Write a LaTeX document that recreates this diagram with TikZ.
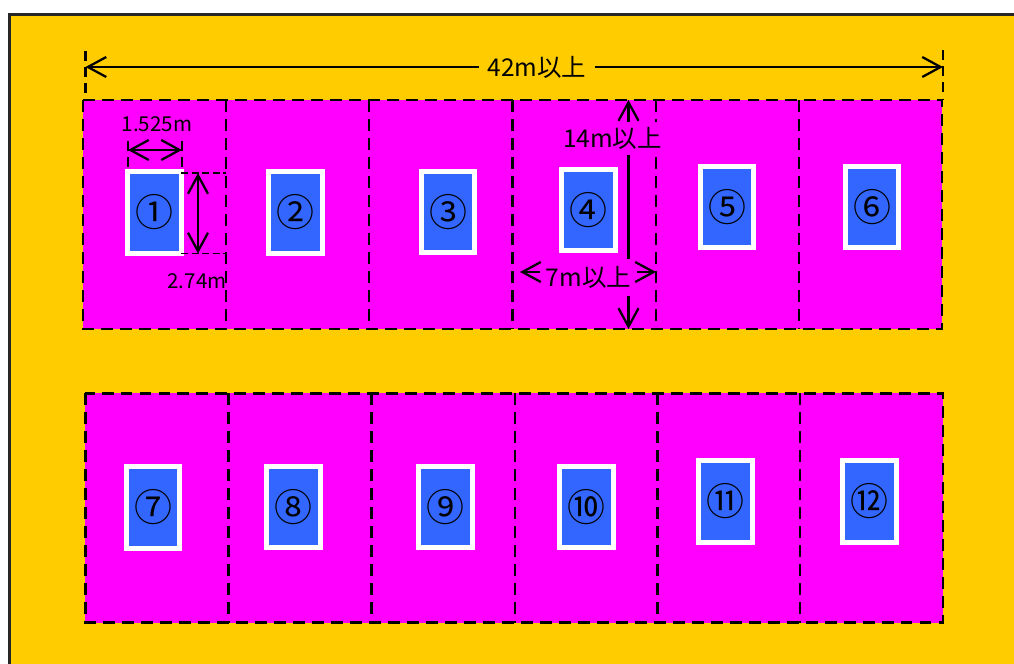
\documentclass[tikz,border=0pt]{standalone}
\usepackage{fontspec}
\setmainfont{Noto Sans CJK JP}
\usepackage{tikz}
\usetikzlibrary{positioning,arrows.meta}
\definecolor{GroundYellow}{RGB}{255, 204, 0}
\definecolor{CourtMagenta}{RGB}{255, 0, 255}
\definecolor{TableBlue}{RGB}{51, 102, 255}

\begin{document}
\begin{tikzpicture}[x=0.025cm, y=-0.025cm,
    ground/.style={rectangle, draw=black!85, line width=1.45pt, fill=GroundYellow, inner sep=0pt, outer sep=0pt, minimum width=30cm, minimum height=20cm},
    court/.style={rectangle, fill=CourtMagenta, inner sep=0pt, outer sep=0pt, minimum width=3.575cm, minimum height=5.725cm},
    table/.style={rectangle, draw=white, line width=3.7pt, fill=TableBlue, inner sep=0pt, outer sep=0pt, minimum width=1.335cm, minimum height=2.035cm, font=\fontsize{27}{27}\selectfont},
    courtline/.style={black, line width=1.8pt, dash pattern=on 8.5pt off 5pt},
    extline/.style={black, line width=1.6pt, dash pattern=on 7pt off 4.5pt},
    thinext/.style={black, line width=1.1pt, dash pattern=on 5pt off 2.5pt},
    dim/.style={black, line width=1.6pt},
    dimtip/.tip={Straight Barb[line width=1.6pt, length=0.46cm, width=0.5cm]},
    dimarrow/.style={dim, -{dimtip}},
    dimboth/.style={dim, {dimtip}-{dimtip}},
    biglabel/.style={font=\fontsize{17.4}{17.4}\selectfont, inner sep=0pt},
    smalllabel/.style={font=\fontsize{14.6}{14.6}\selectfont, inner sep=0pt},
    coverlabel/.style={biglabel, fill=CourtMagenta}
]
    \clip (0, 0) rectangle (1014, 664);

    % Ground
    \node[ground, anchor=north west] (field) at (9.5, 14.5) {};

    % Upper row of courts
    \node[court] (courtA) at (154.5, 214.5) {};
    \node[court] (courtB) at (297.5, 214.5) {};
    \node[court] (courtC) at (441, 214.5) {};
    \node[court] (courtD) at (584.5, 214.5) {};
    \node[court] (courtE) at (727.5, 214.5) {};
    \node[court] (courtF) at (870.5, 214.5) {};

    % Lower row of courts
    \node[court] (courtG) at (157, 508) {};
    \node[court] (courtH) at (300, 508) {};
    \node[court] (courtI) at (443.5, 508) {};
    \node[court] (courtJ) at (586, 508) {};
    \node[court] (courtK) at (728.5, 508) {};
    \node[court] (courtL) at (871.5, 508) {};

    % Court lines
    \draw[courtline] (courtA.north west) rectangle (courtF.south east);
    \draw[courtline] (courtG.north west) rectangle (courtL.south east);
    \foreach \c in {A,B,C,D,E,G,H,I,J,K} {
        \draw[courtline] (court\c.north east) -- (court\c.south east);
    }

    % Tables
    \node[table] (tableA) at (154.5, 212.5) {①};
    \node[table] (tableB) at (295.5, 212.5) {②};
    \node[table] (tableC) at (448, 212) {③};
    \node[table] (tableD) at (588.5, 210) {④};
    \node[table] (tableE) at (727, 207) {⑤};
    \node[table] (tableF) at (872, 207) {⑥};
    \node[table] (tableG) at (153, 507.5) {⑦};
    \node[table] (tableH) at (293.5, 507) {⑧};
    \node[table] (tableI) at (445.5, 507) {⑨};
    \node[table] (tableJ) at (586.5, 507) {⑩};
    \node[table] (tableK) at (725.5, 501.5) {⑪};
    \node[table] (tableL) at (869.5, 501.5) {⑫};

    % 42m
    \coordinate (wideL) at (85.5, 67);
    \coordinate (wideR) at (943, 67);
    \coordinate (wideLtop) at (85.5, 51);
    \coordinate (wideRtop) at (943, 50);
    \node[biglabel, minimum width=2.875cm] (wideLabel) at (537, 67) {42m以上};
    \draw[extline] (wideLtop) -- (wideLtop |- courtA.north);
    \draw[extline] (wideRtop) -- (wideRtop |- courtF.north);
    \draw[dimarrow] (wideLabel.west) -- (wideL);
    \draw[dimarrow] (wideLabel.east) -- (wideR);

    % 1.525m
    \coordinate (tableWl) at (128, 150);
    \coordinate (tableWr) at (182, 150);
    \coordinate (tableWlt) at (128, 141);
    \coordinate (tableWrt) at (182, 141);
    \node[smalllabel] (tableWlabel) at (157, 124) {1.525m};
    \draw[extline] (tableWlt) -- (tableWlt |- tableA.north);
    \draw[extline] (tableWrt) -- (tableWrt |- tableA.north);
    \draw[dimboth] (tableWl) -- (tableWr);

    % 2.74m
    \coordinate (tableLt) at (198, 173);
    \coordinate (tableLb) at (198, 253.5);
    \node[smalllabel] (tableLlabel) at (197, 281) {2.74m};
    \draw[thinext] (tableA.east |- tableLt) -- (courtA.east |- tableLt);
    \draw[thinext] (tableA.east |- tableLb) -- (courtA.east |- tableLb);
    \draw[dimboth] (tableLt) -- (tableLb);

    % 14m and 7m
    \coordinate (deepT) at (628.5, 100);
    \coordinate (deepB) at (628.5, 329);
    \coordinate (sevenL) at (520, 272);
    \coordinate (sevenR) at (656, 272);
    \node[coverlabel, minimum height=0.825cm] (deepLabel) at (612.5, 138.5) {14m以上};
    \node[coverlabel, minimum width=2.4cm, minimum height=0.925cm] (sevenLabel) at (588.5, 277.5) {7m以上};
    \draw[dimarrow] (deepT |- deepLabel.north) -- (deepT);
    \draw[dim] (deepT |- deepLabel.south) -- (deepT |- sevenLabel.north);
    \draw[dimarrow] (deepB |- sevenLabel.south) -- (deepB);
    \draw[dimarrow] (sevenLabel.west |- sevenL) -- (sevenL);
    \draw[dimarrow] (sevenLabel.east |- sevenR) -- (sevenR);
\end{tikzpicture}
\end{document}
